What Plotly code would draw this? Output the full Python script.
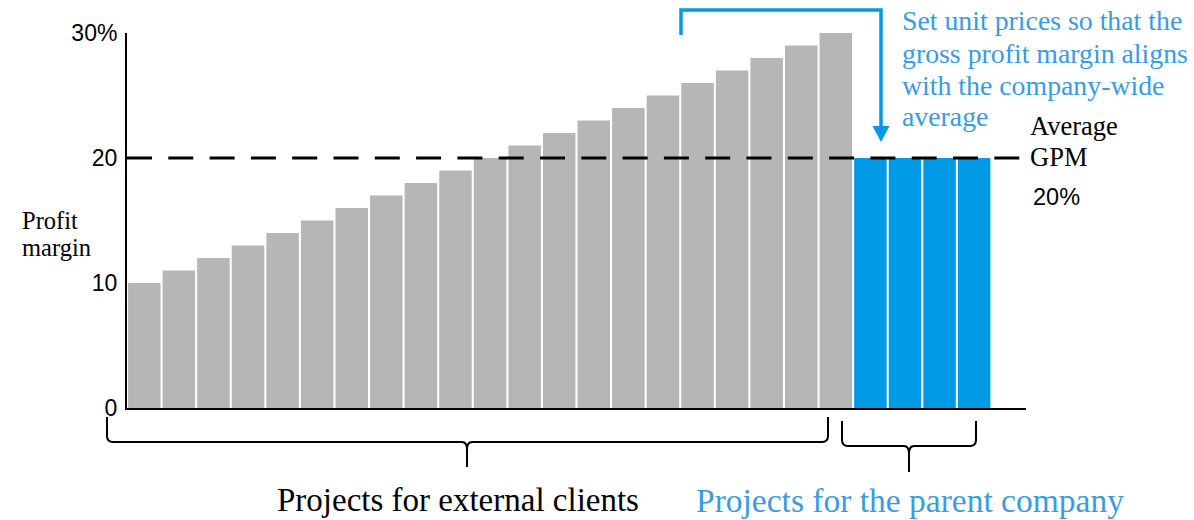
import plotly.graph_objects as go

# Profit margin (%) by project
external_margins = [10, 11, 12, 13, 14, 15, 16, 17, 18, 19, 20,
                    21, 22, 23, 24, 25, 26, 27, 28, 29, 30]
parent_margins = [20, 20, 20, 20]
average_gpm = 20

y_tickvals = [0, 10, 20, 30]
y_ticktext = ["0", "10", "20", "30%"]

callout_lines = ["Set unit prices so that the", "gross profit margin aligns",
                 "with the company-wide", "average"]

GRAY = "#b5b6b8"
BLUE = "#0099e6"
TEXT_BLUE = "#3a9be0"
SERIF = "Liberation Serif"
SANS = "Liberation Sans"

W, H = 1194, 520
L, R, T, B = 127, 168, 33, 112
PW, PH = W - L - R, H - T - B


def px(x):
    return (x - L) / PW


def py(y):
    return (H - B - y) / PH


n_ext = len(external_margins)
x_ext = list(range(n_ext))
x_par = list(range(n_ext, n_ext + len(parent_margins)))

fig = go.Figure()
fig.add_bar(x=x_ext, y=external_margins, marker=dict(color=GRAY, line=dict(width=0)),
            hoverinfo="skip")
fig.add_bar(x=x_par, y=parent_margins, marker=dict(color=BLUE, line=dict(width=0)),
            hoverinfo="skip")

shapes = []
# company-wide average line
shapes.append(dict(type="line", xref="paper", yref="y", x0=0, x1=px(1020),
                   y0=average_gpm, y1=average_gpm,
                   line=dict(color="black", width=3, dash="25px,16.3px")))


def brace(x0, x1, xm, ytop, ybar, ytip):
    r = 6
    return (f"M {px(x0)} {py(ytop)} L {px(x0)} {py(ybar - r)} "
            f"Q {px(x0)} {py(ybar)} {px(x0 + r)} {py(ybar)} "
            f"L {px(xm - 5)} {py(ybar)} Q {px(xm)} {py(ybar)} {px(xm)} {py(ybar + 8)} "
            f"L {px(xm)} {py(ytip)} M {px(xm)} {py(ybar + 8)} "
            f"Q {px(xm)} {py(ybar)} {px(xm + 5)} {py(ybar)} "
            f"L {px(x1 - r)} {py(ybar)} Q {px(x1)} {py(ybar)} {px(x1)} {py(ybar - r)} "
            f"L {px(x1)} {py(ytop)}")


shapes.append(dict(type="path", xref="paper", yref="paper",
                   path=brace(107, 828, 467, 417, 442, 467),
                   line=dict(color="black", width=2)))
shapes.append(dict(type="path", xref="paper", yref="paper",
                   path=brace(842, 976, 909, 421, 446, 472),
                   line=dict(color="black", width=2)))

# callout arrow
shapes.append(dict(type="path", xref="paper", yref="paper",
                   path=f"M {px(681)} {py(35)} L {px(681)} {py(10)} L {px(881)} {py(10)} L {px(881)} {py(128)}",
                   line=dict(color=BLUE, width=3.5)))
shapes.append(dict(type="path", xref="paper", yref="paper",
                   path=f"M {px(872.5)} {py(126)} L {px(889.5)} {py(126)} L {px(881)} {py(142)} Z",
                   fillcolor=BLUE, line=dict(color=BLUE, width=0)))

annotations = []
for line, yc in zip(callout_lines, [21, 53, 85, 117]):
    annotations.append(dict(text=line, x=px(900), y=py(yc), xanchor="left", yanchor="middle",
                            font=dict(family=SERIF, size=27.8, color=TEXT_BLUE)))
for line, yc in zip(["Average", "GPM"], [126, 157]):
    annotations.append(dict(text=line, x=px(1028), y=py(yc), xanchor="left", yanchor="middle",
                            font=dict(family=SERIF, size=26.5, color="black")))
for line, yc in zip(["Profit", "margin"], [220, 248]):
    annotations.append(dict(text=line, x=px(20), y=py(yc), xanchor="left", yanchor="middle",
                            font=dict(family=SERIF, size=24.5, color="black")))
annotations += [
    dict(text="20%", x=px(1031), y=py(197), xanchor="left", yanchor="middle",
         font=dict(family=SANS, size=23.5, color="black")),
    dict(text="Projects for external clients", x=px(458), y=py(500), xanchor="center",
         yanchor="middle", font=dict(family=SERIF, size=33, color="black")),
    dict(text="Projects for the parent company", x=px(910), y=py(500), xanchor="center",
         yanchor="middle", font=dict(family=SERIF, size=33.5, color=TEXT_BLUE)),
]
for a in annotations:
    a.update(xref="paper", yref="paper", showarrow=False)

fig.update_layout(
    width=W, height=H, margin=dict(l=L, r=R, t=T, b=B, pad=0),
    plot_bgcolor="white", paper_bgcolor="white",
    showlegend=False, bargap=0.06, barmode="overlay",
    shapes=shapes, annotations=annotations,
    xaxis=dict(range=[-0.5, 25.5], showticklabels=False, ticks="", showgrid=False,
               zeroline=False, showline=True, linecolor="black", linewidth=2, fixedrange=True),
    yaxis=dict(range=[0, 30], tickvals=y_tickvals, ticktext=y_ticktext, ticks="",
               showgrid=False, zeroline=False, showline=True, linecolor="black", linewidth=2,
               tickfont=dict(family=SANS, size=23, color="black"), ticklabelstandoff=3,
               fixedrange=True),
)

fig.write_html("out.html", config={"displayModeBar": False})
